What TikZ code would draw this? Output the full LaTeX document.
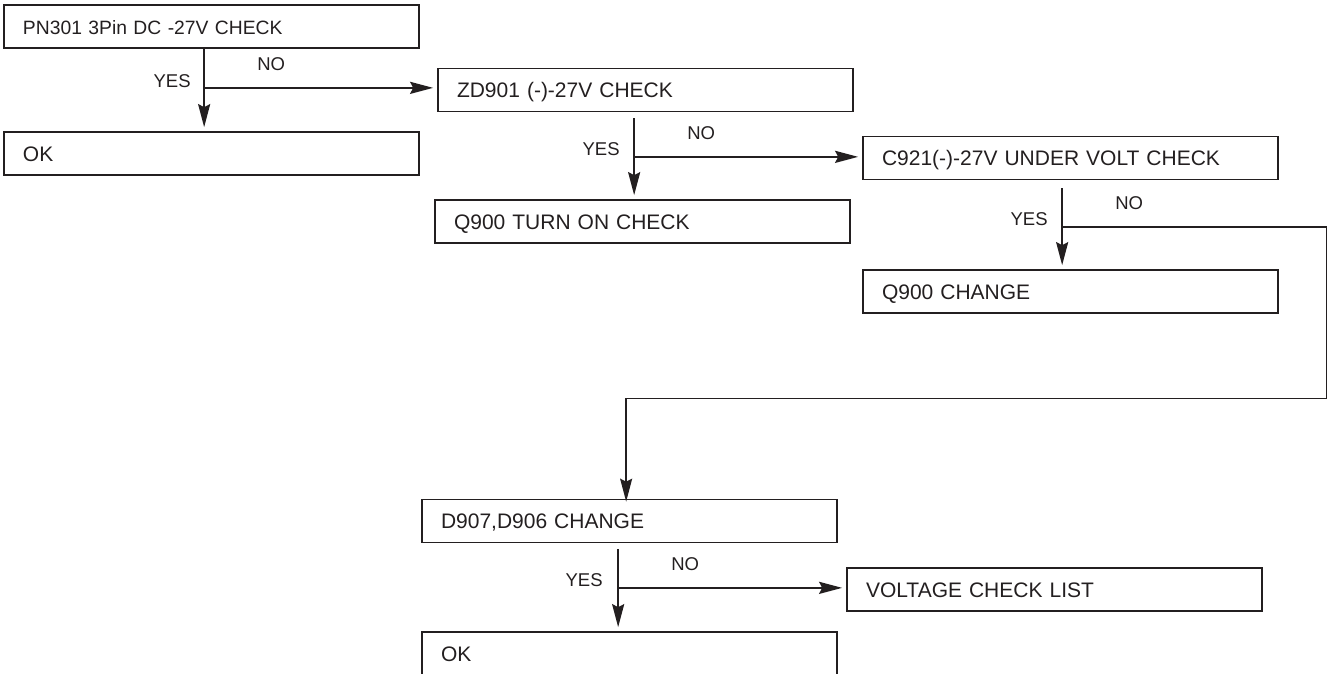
\documentclass[tikz,border=0pt]{standalone}
\usepackage{fontspec}
\setmainfont{Liberation Sans}
\usetikzlibrary{arrows.meta,positioning}
\definecolor{ink}{RGB}{35,31,32}

\tikzset{
  box/.style={draw=ink, line width=1.7pt, text=ink, minimum width=415pt,
    minimum height=43pt, text width=377pt, inner xsep=19pt, align=left,
    text height=15pt, text depth=0pt, font=\fontsize{21}{25}\selectfont},
  lbl/.style={text=ink, inner sep=0pt, font=\fontsize{18.5}{22}\selectfont},
  flow/.style={draw=ink, line width=2pt,
    -{Stealth[length=23pt,width=12pt,inset=3pt]}, shorten >=4pt},
  route/.style={flow, line width=1.6pt, shorten >=-3pt}
}

\begin{document}
\begin{tikzpicture}[x=1pt, y=1pt, on grid]
\useasboundingbox (-211.5,26.5) rectangle (1115.5,-646.5);
\node [box, font=\fontsize{19.3}{23}\selectfont] (pn) {PN301 3Pin DC -27V CHECK};
\node [box] (ok1) [below = 127pt of pn] {OK};
\node [box] (zd) [below right = 63.5pt and 434pt of pn] {ZD901 (-)-27V CHECK};
\node [box] (q900on) [below left = 131.5pt and 3pt of zd] {Q900 TURN ON CHECK};
\node [box] (c921) [below right = 68pt and 425pt of zd] {C921(-)-27V UNDER VOLT CHECK};
\node [box] (q900ch) [below = 133.5pt of c921] {Q900 CHANGE};
\node [box] (d907) [below left = 363pt and 441pt of c921] {D907,D906 CHANGE};
\node [box] (vcl) [below right = 68.5pt and 425pt of d907] {VOLTAGE CHECK LIST};
\node [box] (ok2) [below = 132.5pt of d907] {OK};

% branch points
\coordinate (j1) at ([xshift=201pt, yshift=-39pt]pn.south west);
\coordinate (j2) at ([xshift=197pt, yshift=-44.5pt]zd.south west);
\coordinate (j3) at ([xshift=200pt, yshift=-46.5pt]c921.south west);
\coordinate (j4) at ([xshift=197pt, yshift=-44.5pt]d907.south west);
\coordinate (r1) at ([xshift=48pt]c921.east |- j3);
\coordinate (r2) at ([xshift=205pt, yshift=100pt]d907.north west);

\draw [flow] (pn.south -| j1) -- (ok1.north -| j1);
\draw [flow] (j1) -- (j1 -| zd.west);
\draw [flow, shorten <=6pt] (zd.south -| j2) -- (q900on.north -| j2);
\draw [flow] (j2) -- (j2 -| c921.west);
\draw [flow, shorten <=8pt] (c921.south -| j3) -- (q900ch.north -| j3);
\draw [route] (j3) -- (r1) |- (r2) -- (r2 |- d907.north);
\draw [flow, shorten <=6pt] (d907.south -| j4) -- (ok2.north -| j4);
\draw [flow] (j4) -- (j4 -| vcl.west);

\node [lbl] (yes1) [above left = 7pt and 32pt of j1, anchor=center] {YES};
\node [lbl] (no1) [above right = 24pt and 67pt of j1, anchor=center] {NO};
\node [lbl] (yes2) [above left = 8pt and 33pt of j2, anchor=center] {YES};
\node [lbl] (no2) [above right = 24pt and 67pt of j2, anchor=center] {NO};
\node [lbl] (yes3) [above left = 8pt and 33pt of j3, anchor=center] {YES};
\node [lbl] (no3) [above right = 24pt and 67pt of j3, anchor=center] {NO};
\node [lbl] (yes4) [above left = 8pt and 34pt of j4, anchor=center] {YES};
\node [lbl] (no4) [above right = 24pt and 67pt of j4, anchor=center] {NO};
\end{tikzpicture}
\end{document}
